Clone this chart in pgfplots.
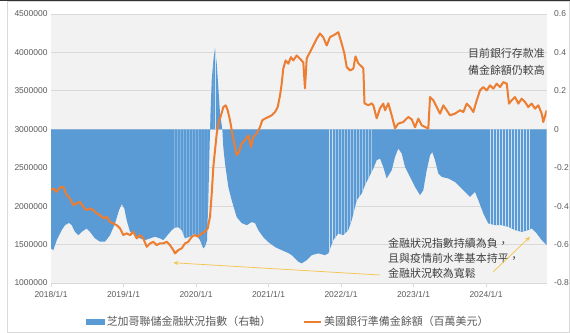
\documentclass[border=0pt]{standalone}
\usepackage{fontspec}
\setmainfont{Liberation Sans}
\newfontfamily\cjk{Noto Sans CJK TC}
\usepackage{pgfplots}
\pgfplotsset{compat=1.18}
\usetikzlibrary{patterns,arrows.meta}
\definecolor{bluec}{HTML}{5B9BD5}
\definecolor{orangec}{HTML}{ED7D31}
\definecolor{yelc}{HTML}{F5C24A}
\definecolor{bgc}{HTML}{F2F2F2}
\definecolor{gridc}{HTML}{D9D9D9}
\definecolor{txtc}{HTML}{595959}
\begin{document}
\begin{tikzpicture}
\path[use as bounding box] (-51bp,-50bp) rectangle (519bp,283bp);
\draw[gridc, line width=0.8bp] (-44bp,-49bp) rectangle (518bp,282bp);
\draw[black!80, line width=1.5bp] (-51bp,282.5bp) -- (519bp,282.5bp);
% ---------- right axis: NFCI ----------
\begin{axis}[at={(0,0)}, anchor=south west, scale only axis,
  width=495.7bp, height=269bp,
  xmin=2018, xmax=2024.837, ymin=-0.8, ymax=0.6,
  axis background/.style={fill=bgc},
  axis line style={draw=none},
  ymajorgrids, grid style={draw=gridc, line width=0.8bp},
  xtick={2018,2019,2020,2021,2022,2023,2024},
  xticklabels={2018/1/1,2019/1/1,2020/1/1,2021/1/1,2022/1/1,2023/1/1,2024/1/1},
  xtick pos=bottom, xticklabel pos=bottom,
  tick align=outside, major tick length=4bp,
  xtick style={draw=gridc, line width=0.8bp},
  ytick={-0.8,-0.6,-0.4,-0.2,0,0.2,0.4,0.6},
  yticklabels={-0.8,-0.6,-0.4,-0.2,0,0.2,0.4,0.6},
  ytick pos=right, yticklabel pos=right,
  ytick style={draw=none},
  ticklabel style={font=\fontsize{8.5}{10}\selectfont, text=txtc},
  xticklabel style={yshift=-1bp},
]
\addplot[fill=bluec, draw=none, forget plot] coordinates {(2018,0)
(2018.000,-0.620) (2018.032,-0.629) (2018.079,-0.577) (2018.148,-0.525) (2018.193,-0.499) (2018.248,-0.487) (2018.286,-0.499) (2018.331,-0.534) (2018.377,-0.551) (2018.423,-0.534) (2018.492,-0.516) (2018.538,-0.534) (2018.607,-0.568) (2018.676,-0.585) (2018.745,-0.585) (2018.814,-0.551) (2018.883,-0.490) (2018.938,-0.421) (2018.975,-0.390) (2019.011,-0.412) (2019.044,-0.473) (2019.090,-0.534) (2019.159,-0.551) (2019.228,-0.568) (2019.297,-0.577) (2019.366,-0.568) (2019.434,-0.559) (2019.503,-0.568) (2019.549,-0.577) (2019.596,-0.556) (2019.665,-0.525) (2019.710,-0.512) (2019.756,-0.510) (2019.803,-0.525) (2019.848,-0.568) (2019.917,-0.559) (2019.986,-0.542) (2020.055,-0.577) (2020.101,-0.620) (2020.124,-0.611) (2020.152,-0.577) (2020.170,-0.369) (2020.186,-0.109) (2020.200,0.083) (2020.217,0.255) (2020.239,0.358) (2020.262,0.421) (2020.286,0.343) (2020.308,0.218) (2020.331,0.083) (2020.363,0.000) (2020.377,-0.094) (2020.400,-0.177) (2020.446,-0.301) (2020.492,-0.369) (2020.561,-0.457) (2020.630,-0.488) (2020.699,-0.499) (2020.768,-0.483) (2020.814,-0.488) (2020.859,-0.525) (2020.928,-0.561) (2020.997,-0.587) (2021.090,-0.613) (2021.182,-0.629) (2021.273,-0.644) (2021.320,-0.655) (2021.411,-0.689) (2021.458,-0.698) (2021.527,-0.681) (2021.596,-0.655) (2021.687,-0.646) (2021.779,-0.655) (2021.825,-0.646) (2021.894,-0.577) (2021.963,-0.542) (2022.032,-0.551) (2022.101,-0.525) (2022.148,-0.473) (2022.217,-0.369) (2022.286,-0.334) (2022.331,-0.291) (2022.400,-0.239) (2022.446,-0.204) (2022.492,-0.161) (2022.538,-0.152) (2022.583,-0.196) (2022.630,-0.256) (2022.699,-0.213) (2022.745,-0.144) (2022.790,-0.100) (2022.837,-0.126) (2022.883,-0.196) (2022.952,-0.248) (2023.021,-0.300) (2023.090,-0.343) (2023.135,-0.317) (2023.182,-0.213) (2023.228,-0.135) (2023.259,-0.118) (2023.297,-0.161) (2023.342,-0.230) (2023.389,-0.248) (2023.480,-0.256) (2023.572,-0.274) (2023.641,-0.300) (2023.710,-0.326) (2023.779,-0.352) (2023.848,-0.326) (2023.894,-0.369) (2023.963,-0.438) (2024.032,-0.490) (2024.124,-0.499) (2024.217,-0.499) (2024.308,-0.508) (2024.400,-0.525) (2024.492,-0.534) (2024.583,-0.525) (2024.630,-0.516) (2024.699,-0.542) (2024.768,-0.577) (2024.837,-0.603)
(2024.837,0)} -- cycle;
% lighter striped stretches of the bar series
\addplot[pattern=vertical lines, pattern color=white!70!bluec, draw=none, forget plot] coordinates {(2019.665,0)
(2019.665,-0.525) (2019.710,-0.512) (2019.756,-0.510) (2019.803,-0.525) (2019.848,-0.568) (2019.917,-0.559) (2019.986,-0.542) (2020.055,-0.577) (2020.101,-0.620) (2020.124,-0.611) (2020.152,-0.577) (2020.170,-0.369) (2020.186,-0.109) (2020.200,0.083) (2020.217,0.255) (2020.239,0.358) (2020.262,0.421) (2020.286,0.343)
(2020.286,0)} -- cycle;
\addplot[pattern=vertical lines, pattern color=white!70!bluec, draw=none, forget plot] coordinates {(2021.825,0)
(2021.825,-0.646) (2021.894,-0.577) (2021.963,-0.542) (2022.032,-0.551) (2022.101,-0.525) (2022.148,-0.473) (2022.217,-0.369) (2022.286,-0.334) (2022.331,-0.291) (2022.400,-0.239) (2022.446,-0.204)
(2022.446,0)} -- cycle;
\addplot[pattern=vertical lines, pattern color=white!70!bluec, draw=none, forget plot] coordinates {(2024.032,0)
(2024.032,-0.490) (2024.124,-0.499) (2024.217,-0.499) (2024.308,-0.508) (2024.400,-0.525) (2024.492,-0.534) (2024.583,-0.525) (2024.630,-0.516)
(2024.630,0)} -- cycle;
\end{axis}
% ---------- left axis: reserves ----------
\begin{axis}[at={(0,0)}, anchor=south west, scale only axis,
  width=495.7bp, height=269bp,
  xmin=2018, xmax=2024.837, ymin=1000000, ymax=4500000,
  hide x axis,
  axis line style={draw=none},
  scaled y ticks=false,
  ytick={1000000,1500000,2000000,2500000,3000000,3500000,4000000,4500000},
  yticklabels={1000000,1500000,2000000,2500000,3000000,3500000,4000000,4500000},
  ytick pos=left, yticklabel pos=left,
  ytick style={draw=none},
  ticklabel style={font=\fontsize{8.5}{10}\selectfont, text=txtc},
  legend columns=2,
  legend style={at={(0.479,-0.145)}, anchor=center, draw=none, fill=none,
    font=\cjk\fontsize{11}{13}\selectfont, text=txtc,
    /tikz/every even column/.append style={column sep=30bp}},
  legend cell align=left,
]
\addlegendimage{legend image code/.code={\fill[bluec] (0bp,-2.5bp) rectangle (18bp,2.5bp);}}
\addlegendentry{芝加哥聯儲金融狀況指數（右軸）}
\addplot[orangec, line width=2bp, line join=round,
  legend image code/.code={\draw[orangec, line width=2bp] (0bp,0bp) -- (17bp,0bp);}] coordinates {
(2018.000,2208000) (2018.032,2230000) (2018.079,2185700) (2018.124,2242900) (2018.170,2250700) (2018.217,2142900) (2018.262,2100000) (2018.308,2013000) (2018.354,2035100) (2018.400,2055800) (2018.446,1990900) (2018.492,1948100) (2018.538,1970100) (2018.583,1948100) (2018.630,1905200) (2018.676,1883100) (2018.721,1840300) (2018.768,1861000) (2018.814,1796100) (2018.859,1775300) (2018.906,1753200) (2018.952,1710400) (2018.997,1623400) (2019.044,1645500) (2019.090,1623400) (2019.135,1666200) (2019.182,1580500) (2019.228,1623400) (2019.273,1580500) (2019.320,1471400) (2019.366,1515600) (2019.411,1536400) (2019.458,1493500) (2019.503,1515600) (2019.549,1515600) (2019.596,1536400) (2019.641,1493500) (2019.687,1428600) (2019.710,1385700) (2019.756,1428600) (2019.803,1450700) (2019.848,1515600) (2019.894,1536400) (2019.941,1601300) (2019.986,1623400) (2020.032,1601300) (2020.079,1645500) (2020.124,1666200) (2020.161,1710400) (2020.193,1861000) (2020.217,2164900) (2020.239,2510400) (2020.262,2727300) (2020.286,2944200) (2020.308,3074000) (2020.345,3181800) (2020.377,3289600) (2020.410,3311700) (2020.437,3246800) (2020.469,3116900) (2020.501,2944200) (2020.538,2770100) (2020.561,2662300) (2020.593,2705200) (2020.630,2814300) (2020.676,2857100) (2020.721,2922100) (2020.759,2770100) (2020.790,2900000) (2020.837,2944200) (2020.883,3029900) (2020.914,3116900) (2020.952,3139000) (2020.997,3159700) (2021.044,3181800) (2021.090,3224700) (2021.127,3289600) (2021.159,3441600) (2021.182,3593500) (2021.204,3792200) (2021.237,3896100) (2021.273,3853200) (2021.310,3939000) (2021.342,3896100) (2021.389,3961000) (2021.434,3918200) (2021.480,3870100) (2021.503,3532500) (2021.527,3922100) (2021.596,4048000) (2021.665,4177900) (2021.710,4246800) (2021.756,4194800) (2021.803,4090900) (2021.848,4198700) (2021.917,4233800) (2021.963,4263600) (2022.010,4113000) (2022.046,3987000) (2022.079,3809100) (2022.124,3766200) (2022.170,3788300) (2022.200,3948100) (2022.239,3857100) (2022.283,3818200) (2022.308,3792200) (2022.324,3337700) (2022.377,3311700) (2022.423,3337700) (2022.446,3311700) (2022.492,3142900) (2022.538,3272700) (2022.583,3333800) (2022.607,3246800) (2022.652,3337700) (2022.699,3181800) (2022.745,3013000) (2022.790,3074000) (2022.859,3094800) (2022.928,3159700) (2022.975,3129900) (2023.021,3026000) (2023.066,3139000) (2023.113,3051900) (2023.159,3029900) (2023.204,3009100) (2023.228,3419500) (2023.273,3376600) (2023.320,3289600) (2023.366,3203900) (2023.411,3311700) (2023.458,3246800) (2023.503,3181800) (2023.572,3203900) (2023.641,3246800) (2023.687,3224700) (2023.734,3333800) (2023.779,3289600) (2023.825,3224700) (2023.872,3376600) (2023.917,3506500) (2023.963,3549300) (2024.010,3506500) (2024.055,3571400) (2024.101,3528600) (2024.148,3593500) (2024.193,3549300) (2024.239,3614300) (2024.286,3593500) (2024.317,3333800) (2024.354,3376600) (2024.400,3419500) (2024.446,3333800) (2024.492,3398700) (2024.538,3354500) (2024.583,3289600) (2024.630,3333800) (2024.676,3268800) (2024.721,3311700) (2024.768,3203900) (2024.790,3094800) (2024.837,3246800)};
\addlegendentry{美國銀行準備金餘額（百萬美元）}
\node[anchor=east, align=right, inner sep=0pt, text=black!75,
  font=\cjk\fontsize{11}{17}\selectfont] at (axis cs:2024.814,3876600) {目前銀行存款准\\備金餘額仍較高};
\node[anchor=west, align=left, inner sep=0pt, text=black!75,
  font=\cjk\fontsize{11}{15}\selectfont] at (axis cs:2022.648,1320800) {金融狀況指數持續為負，\\且與疫情前水準基本持平，\\金融狀況較為寬鬆};
\draw[yelc, line width=0.7bp, -{Stealth[length=5bp,width=4bp]}] (axis cs:2022.538,1103900) -- (axis cs:2019.687,1263600);
\draw[yelc, line width=0.7bp, -{Stealth[length=5bp,width=4bp]}] (axis cs:2024.101,1146800) -- (axis cs:2024.607,1601300);
\end{axis}
\end{tikzpicture}
\end{document}
